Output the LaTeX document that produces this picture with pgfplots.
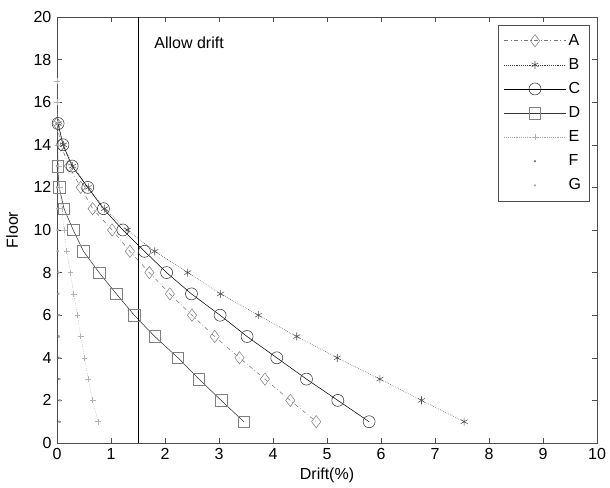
\documentclass[border=0pt]{standalone}
\usepackage{fontspec}
\setmainfont{Liberation Sans}
\usepackage{pgfplots}
\pgfplotsset{compat=1.18}

\begin{document}
\begin{tikzpicture}
\fontsize{12}{14}\selectfont
% page frame: 610x488 px at 0.75pt per px, axis corner at (57,443) px
\useasboundingbox (-42.75pt,-33.75pt) rectangle (414.75pt,332.25pt);
\begin{axis}[
    at={(0pt,0pt)}, anchor=south west,
    scale only axis,
    width=405pt, height=319.5pt,
    xmin=0, xmax=10, ymin=0, ymax=20,
    xtick={0,1,...,10}, ytick={0,2,...,20},
    tick align=inside,
    major tick length=4pt,
    axis line style={black!70, thin},
    tick style={black!70, thin},
    /pgf/number format/assume math mode=true,
    ticklabel style={font=\fontsize{12}{14}\selectfont},
    xlabel={Drift(\%)}, ylabel={Floor},
    every axis x label/.style={at={(axis description cs:0.5,-0.075)}, anchor=center},
    every axis y label/.style={at={(axis description cs:-0.083,0.5)}, rotate=90, anchor=center},
    label style={font=\fontsize{12}{14}\selectfont},
    legend style={at={(0.987,0.981)}, anchor=north east, draw=black!70, thin,
        font=\fontsize{12}{14}\selectfont, row sep=4pt, inner sep=4.5pt,
        cells={anchor=west}},
    legend image code/.code={
        \draw[mark repeat=2, mark phase=2, #1]
            plot coordinates {(0pt,0pt) (23pt,0pt) (46pt,0pt)};},
]
\addplot[black!55, thin, dash dot, mark=diamond, mark size=4.6pt, mark options={solid, black!50}]
coordinates {
(0.00,15) (0.07,14) (0.22,13) (0.44,12) (0.66,11) (1.02,10) (1.35,9) (1.71,8)
(2.09,7) (2.50,6) (2.92,5) (3.38,4) (3.85,3) (4.32,2) (4.80,1)
};
\addplot[black!75, thin, densely dotted, mark=asterisk, mark size=3pt, mark options={solid, black!70}]
coordinates {
(0.02,15) (0.12,14) (0.29,13) (0.58,12) (0.88,11) (1.30,10) (1.81,9) (2.42,8)
(3.03,7) (3.73,6) (4.44,5) (5.19,4) (5.98,3) (6.75,2) (7.54,1)
};
\addplot[black, thin, mark=o, mark size=4.5pt, mark options={solid, black!80}]
coordinates {
(0.02,15) (0.11,14) (0.28,13) (0.57,12) (0.86,11) (1.22,10) (1.62,9) (2.03,8)
(2.49,7) (3.02,6) (3.52,5) (4.07,4) (4.62,3) (5.20,2) (5.78,1)
};
\addplot[black!80, thin, mark=square, mark size=4.3pt, mark options={solid, black!50}]
coordinates {
(0.01,13) (0.04,12) (0.13,11) (0.30,10) (0.49,9) (0.78,8)
(1.10,7) (1.43,6) (1.81,5) (2.24,4) (2.63,3) (3.04,2) (3.46,1)
};
\addplot[black!35, thin, densely dotted, mark=+, mark size=2.2pt, mark options={solid, black!30}]
coordinates {
(0.00,17) (0.00,16) (0.01,15) (0.02,14) (0.03,13) (0.05,12) (0.09,11) (0.13,10)
(0.18,9) (0.25,8) (0.31,7) (0.38,6) (0.44,5) (0.51,4) (0.58,3) (0.66,2) (0.76,1)
};
\addplot[only marks, mark=*, mark size=0.6pt, black!55]
coordinates {
(0.00,15) (0.00,14) (0.00,13) (0.00,12) (0.01,11) (0.01,10) (0.01,9) (0.02,8)
(0.02,7) (0.02,6) (0.03,5) (0.03,4) (0.03,3) (0.04,2) (0.04,1)
};
\addplot[only marks, mark=*, mark size=0.6pt, black!35]
coordinates {
(0.00,15) (0.00,14) (0.00,13) (0.01,12) (0.01,11) (0.02,10) (0.02,9) (0.03,8)
(0.03,7) (0.04,6) (0.04,5) (0.05,4) (0.05,3) (0.06,2) (0.06,1)
};
\legend{A,B,C,D,E,F,G}
\addplot[black, thin, forget plot] coordinates {(1.5,0) (1.5,20)};
\node[anchor=west] at (axis cs:1.70,18.8) {Allow drift};
\end{axis}
\end{tikzpicture}
\end{document}
